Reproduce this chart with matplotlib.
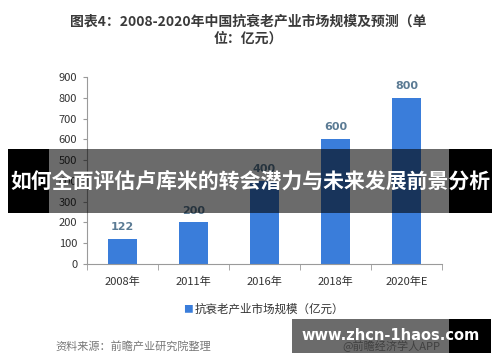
import matplotlib.pyplot as plt
from matplotlib.patches import Rectangle

plt.rcParams['font.family'] = ['Noto Sans CJK SC', 'DejaVu Sans']

years = ["2008年", "2011年", "2016年", "2018年", "2020年E"]
market = [122, 200, 400, 600, 800]
series_name = "抗衰老产业市场规模（亿元）"
title = "图表4：2008-2020年中国抗衰老产业市场规模及预测（单\n位：亿元）"
source = "资料来源：前瞻产业研究院整理"
banner = "如何全面评估卢库米的转会潜力与未来发展前景分析"
site = "www.zhcn-1haos.com"

bar_color = "#3A7DDA"
axis_color = "#9a9a9a"

fig = plt.figure(figsize=(5, 3.62), dpi=100)
W, H = 500, 362

def fx(px):
    return px / W

def fy(py):
    return 1 - py / H

ax = fig.add_axes([fx(87), fy(264), fx(442) - fx(87), fy(77) - fy(264)])
xs = [i + 0.5 for i in range(len(years))]
bars = ax.bar(xs, market, width=0.4, color=bar_color, zorder=2)
for x, v in zip(xs, market):
    ax.annotate(str(v), (x, v), xytext=(0, 5), textcoords="offset points",
                ha="center", va="bottom", fontsize=8, color="#5b7b94",
                family="DejaVu Sans", fontweight="semibold")

ax.set_xlim(0, len(years))
ax.set_ylim(0, 900)
ax.set_yticks(range(0, 901, 100))
ax.set_xticks(xs)
ax.set_xticklabels(years)
ax.set_xticks(range(len(years) + 1), minor=True)
ax.tick_params(axis="x", which="major", length=0, pad=9, labelsize=8, labelcolor="#333333")
ax.tick_params(axis="x", which="minor", length=4, color=axis_color)
ax.tick_params(axis="y", length=3, color=axis_color, labelsize=8, labelcolor="#333333", pad=4)
for s in ["top", "right"]:
    ax.spines[s].set_visible(False)
for s in ["left", "bottom"]:
    ax.spines[s].set_color(axis_color)
    ax.spines[s].set_linewidth(0.8)

# legend
fig.text(fx(188), fy(309), "■", color=bar_color, fontsize=7, ha="center", va="center")
fig.text(fx(195), fy(309), series_name, fontsize=8.3, color="#333333", ha="left", va="center")

# title
fig.text(fx(248), fy(30), title, ha="center", va="center", fontsize=10,
         fontweight="bold", color="#3a3a3a", linespacing=1.3)

# footer
fig.text(fx(55), fy(346), source, fontsize=8, color="#777777", ha="left", va="center")
fig.text(fx(342), fy(346), "@前瞻经济学人APP", fontsize=8, color="#999999", ha="left", va="center")

# overlay banner
fig.add_artist(Rectangle((fx(49), fy(213)), fx(449) - fx(49), fy(149) - fy(213),
                         transform=fig.transFigure, color="black", alpha=0.58, lw=0, zorder=5))
fig.add_artist(Rectangle((fx(8), fy(213)), fx(49) - fx(8), fy(149) - fy(213),
                         transform=fig.transFigure, color="black", lw=0, zorder=5))
fig.add_artist(Rectangle((fx(449), fy(213)), fx(492) - fx(449), fy(149) - fy(213),
                         transform=fig.transFigure, color="black", lw=0, zorder=5))
fig.text(fx(250), fy(181), banner, ha="center", va="center", fontsize=15,
         fontweight="bold", color="white", zorder=6)

# site watermark
fig.add_artist(Rectangle((fx(292), fy(353)), fx(449) - fx(292), fy(319) - fy(353),
                         transform=fig.transFigure, color="black", alpha=0.58, lw=0, zorder=5))
fig.add_artist(Rectangle((fx(449), fy(353)), fx(491) - fx(449), fy(319) - fy(353),
                         transform=fig.transFigure, color="black", lw=0, zorder=5))
fig.text(fx(391), fy(336), site, ha="center", va="center", fontsize=10.5,
         fontweight="bold", color="white", family="DejaVu Sans", zorder=6)

fig.savefig("out.png", dpi=100)
